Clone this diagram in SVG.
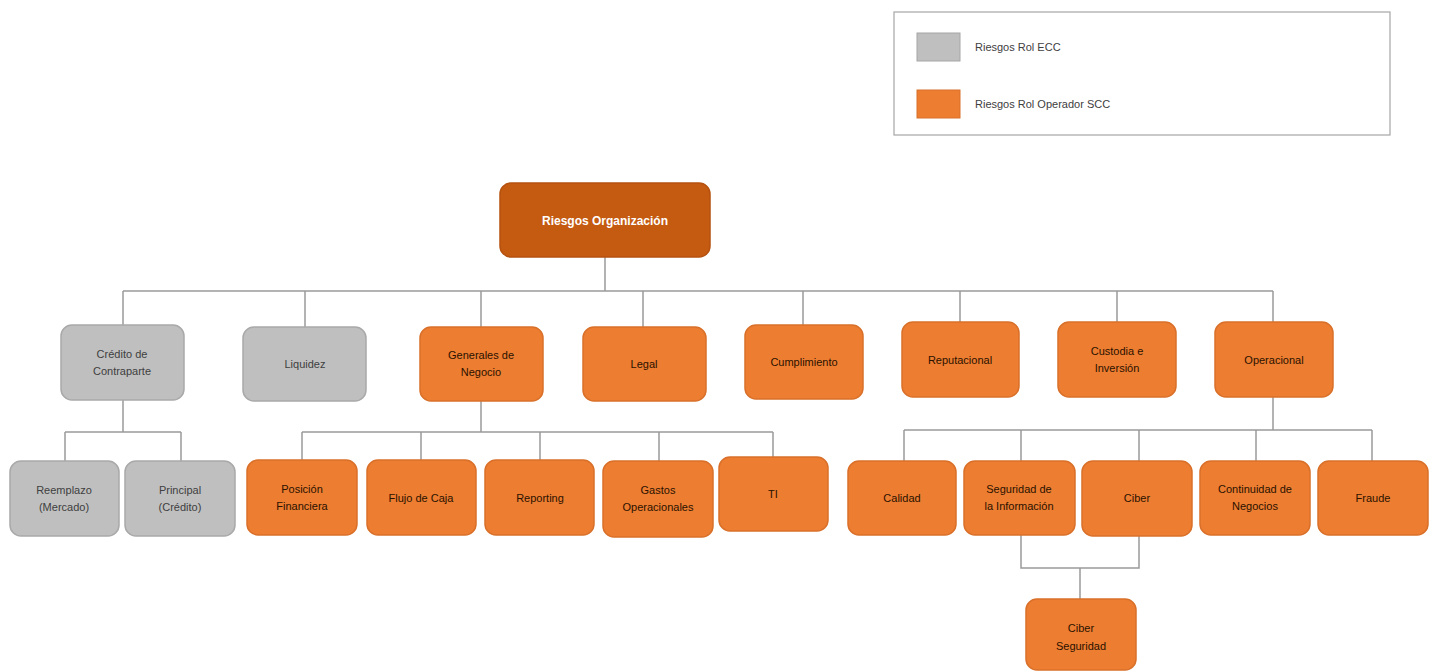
<svg xmlns="http://www.w3.org/2000/svg" width="1440" height="671" viewBox="0 0 1440 671">
<style>
.g rect{fill:#BFBFBF;stroke:#A9A9A9;stroke-width:1.5}
.o rect{fill:#ED7D31;stroke:#D9702A;stroke-width:1.5}
.r rect{fill:#C55A11;stroke:#B5520F;stroke-width:1.5}
text{font-family:"Liberation Sans",Arial,sans-serif;font-size:11px;text-anchor:middle;dominant-baseline:central}
.g text{fill:#404040}
.o text{fill:#2a1200}
.r text{fill:#fff;font-weight:bold;font-size:12px}
#connectors path{fill:none;stroke:#9A9A9A;stroke-width:1.5}
.lg text{text-anchor:start;fill:#404040}
</style>
<rect width="1440" height="671" fill="#fff"/>
<g id="legend" class="lg">
<rect x="894" y="12" width="496" height="123" fill="#fff" stroke="#A6A6A6" stroke-width="1.2"/>
<rect x="917" y="33" width="43" height="28" fill="#BFBFBF" stroke="#A6A6A6"/>
<rect x="917" y="90" width="43" height="28" fill="#ED7D31" stroke="#D9702A"/>
<text x="975" y="47">Riesgos Rol ECC</text>
<text x="975" y="104">Riesgos Rol Operador SCC</text>
</g>
<g id="connectors">
<path d="M605 257V291M123 291H1273M123 291V325M305 291V327M481 291V327M643 291V327M803 291V325M960 291V322M1117 291V322M1273 291V322"/>
<path d="M123 400V432M65 432H181M65 432V461M181 432V461"/>
<path d="M481 401V432M302 432H773M302 432V460M421 432V460M540 432V460M659 432V461M773 432V457"/>
<path d="M1273 397V430M904 430H1372M904 430V461M1021 430V461M1139 430V461M1256 430V461M1372 430V461"/>
<path d="M1021 535V568H1139V536M1080 568V599"/>
</g>
<g id="root" class="r"><rect x="500" y="183" width="210" height="74" rx="11"/><text x="605" y="221">Riesgos Organización</text></g>
<g id="credito" class="g"><rect x="61" y="325" width="123" height="75" rx="11"/><text x="122" y="354">Crédito de</text><text x="122" y="371">Contraparte</text></g>
<g id="liquidez" class="g"><rect x="243" y="327" width="123" height="74" rx="11"/><text x="305" y="364">Liquidez</text></g>
<g id="generales" class="o"><rect x="420" y="327" width="123" height="74" rx="11"/><text x="481" y="355">Generales  de</text><text x="481" y="372">Negocio</text></g>
<g id="legal" class="o"><rect x="583" y="327" width="123" height="74" rx="11"/><text x="644" y="364">Legal</text></g>
<g id="cumplimiento" class="o"><rect x="745" y="325" width="118" height="74" rx="11"/><text x="804" y="362">Cumplimiento</text></g>
<g id="reputacional" class="o"><rect x="902" y="322" width="117" height="75" rx="11"/><text x="960" y="360">Reputacional</text></g>
<g id="custodia" class="o"><rect x="1058" y="322" width="118" height="75" rx="11"/><text x="1117" y="351">Custodia e</text><text x="1117" y="368">Inversión</text></g>
<g id="operacional" class="o"><rect x="1215" y="322" width="118" height="75" rx="11"/><text x="1274" y="360">Operacional</text></g>
<g id="reemplazo" class="g"><rect x="10" y="461" width="109" height="75" rx="11"/><text x="64" y="490">Reemplazo</text><text x="64" y="507">(Mercado)</text></g>
<g id="principal" class="g"><rect x="125" y="461" width="110" height="75" rx="11"/><text x="180" y="490">Principal</text><text x="180" y="507">(Crédito)</text></g>
<g id="posicion" class="o"><rect x="247" y="460" width="110" height="75" rx="11"/><text x="302" y="489">Posición</text><text x="302" y="506">Financiera</text></g>
<g id="flujo" class="o"><rect x="367" y="460" width="109" height="75" rx="11"/><text x="421" y="498">Flujo de Caja</text></g>
<g id="reporting" class="o"><rect x="485" y="460" width="109" height="75" rx="11"/><text x="540" y="498">Reporting</text></g>
<g id="gastos" class="o"><rect x="603" y="461" width="110" height="76" rx="11"/><text x="658" y="490">Gastos</text><text x="658" y="507">Operacionales</text></g>
<g id="ti" class="o"><rect x="719" y="457" width="109" height="74" rx="11"/><text x="773" y="494">TI</text></g>
<g id="calidad" class="o"><rect x="848" y="461" width="108" height="74" rx="11"/><text x="902" y="498">Calidad</text></g>
<g id="seguridad" class="o"><rect x="964" y="461" width="111" height="74" rx="11"/><text x="1019" y="489">Seguridad de</text><text x="1019" y="506">la Información</text></g>
<g id="ciber" class="o"><rect x="1082" y="461" width="110" height="75" rx="11"/><text x="1137" y="498">Ciber</text></g>
<g id="continuidad" class="o"><rect x="1200" y="461" width="110" height="74" rx="11"/><text x="1255" y="489">Continuidad de</text><text x="1255" y="506">Negocios</text></g>
<g id="fraude" class="o"><rect x="1318" y="461" width="110" height="74" rx="11"/><text x="1373" y="498">Fraude</text></g>
<g id="cibersec" class="o"><rect x="1026" y="599" width="110" height="71" rx="11"/><text x="1081" y="628">Ciber</text><text x="1081" y="646">Seguridad</text></g>
</svg>
